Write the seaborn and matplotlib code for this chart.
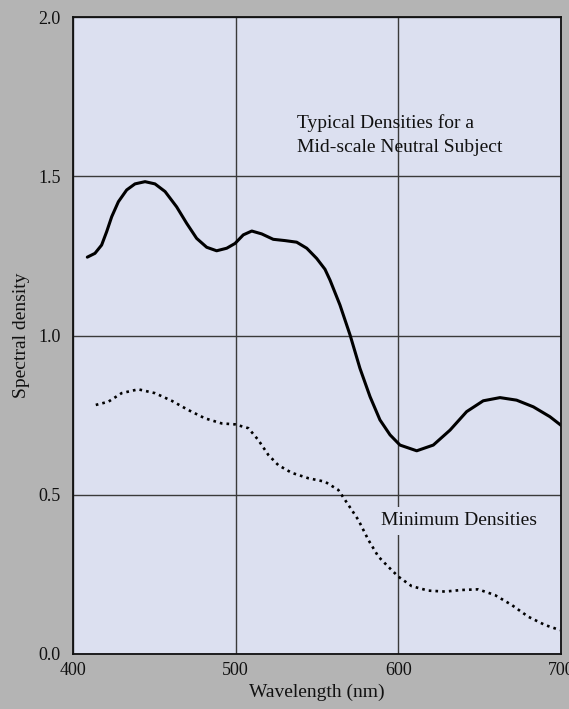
import numpy as np
import pandas as pd
import matplotlib
matplotlib.use("Agg")
import matplotlib.pyplot as plt
import seaborn as sns

# =========================
# DATA
# =========================
typical_nm = [408.8, 413.5, 417.6, 420.7, 423.8, 427.9, 433.0, 438.1, 444.3,
              450.4, 456.6, 463.7, 469.9, 476.0, 482.2, 488.3, 494.5, 499.6,
              504.7, 509.9, 516.0, 523.1, 530.3, 537.5, 543.7, 549.8, 554.9,
              558.0, 564.1, 570.3, 576.4, 582.6, 588.7, 594.9, 601.0, 611.3,
              621.5, 631.8, 642.0, 652.2, 662.5, 672.7, 683.0, 693.2, 700.0]
typical_density = [1.246, 1.258, 1.284, 1.326, 1.373, 1.420, 1.457, 1.476, 1.483,
                   1.476, 1.452, 1.404, 1.352, 1.305, 1.277, 1.266, 1.274, 1.289,
                   1.316, 1.328, 1.319, 1.302, 1.298, 1.293, 1.274, 1.242, 1.208,
                   1.174, 1.096, 1.002, 0.897, 0.808, 0.735, 0.688, 0.656, 0.638,
                   0.656, 0.703, 0.761, 0.795, 0.805, 0.797, 0.776, 0.745, 0.718]

minimum_nm = [414.0, 421.7, 429.9, 440.1, 450.4, 460.7, 470.9, 481.1, 491.4,
              499.6, 507.8, 513.9, 520.1, 526.2, 534.4, 544.6, 554.9, 563.1,
              569.3, 575.4, 581.6, 587.7, 593.8, 600.0, 608.2, 618.4, 628.7,
              638.9, 649.1, 659.4, 669.7, 679.9, 690.2, 699.4]
minimum_density = [0.782, 0.792, 0.819, 0.831, 0.819, 0.795, 0.766, 0.740, 0.724,
                   0.721, 0.709, 0.672, 0.625, 0.593, 0.569, 0.552, 0.541, 0.515,
                   0.468, 0.421, 0.358, 0.306, 0.274, 0.243, 0.213, 0.199, 0.196,
                   0.201, 0.203, 0.185, 0.154, 0.117, 0.091, 0.075]

x_ticks = [400, 500, 600, 700]
y_ticks = [0.0, 0.5, 1.0, 1.5, 2.0]

# =========================
# STYLE
# =========================
bg_fig = "#b4b4b4"
bg_ax = "#dce0f0"
ink = "#111111"

sns.set_theme(style="whitegrid")
plt.rcParams["font.family"] = ["Liberation Serif", "DejaVu Serif"]

df_typ = pd.DataFrame({"nm": typical_nm, "density": typical_density})
df_min = pd.DataFrame({"nm": minimum_nm, "density": minimum_density})

fig = plt.figure(figsize=(5.69, 7.09), dpi=100, facecolor=bg_fig)
ax = fig.add_axes([73 / 569, 1 - 654 / 709, (561 - 73) / 569, (654 - 17) / 709])
ax.set_facecolor(bg_ax)

sns.lineplot(data=df_typ, x="nm", y="density", ax=ax, color="black", lw=2.2)
ax.lines[-1].set_solid_joinstyle("round")
ax.lines[-1].set_solid_capstyle("round")
sns.lineplot(data=df_min, x="nm", y="density", ax=ax, color="black", lw=1.9,
             linestyle=(0, (1, 1.55)))

ax.set_xlim(400, 700)
ax.set_ylim(0, 2.0)
ax.set_xticks(x_ticks)
ax.set_yticks(y_ticks)
ax.set_xticklabels([str(t) for t in x_ticks])
ax.set_yticklabels([f"{t:.1f}" for t in y_ticks])
ax.tick_params(axis="both", length=0, labelsize=13, colors=ink)
ax.tick_params(axis="x", pad=6)
ax.tick_params(axis="y", pad=9)

ax.grid(True, color="#3a3a3a", lw=1.0)
for s in ax.spines.values():
    s.set_visible(True)
    s.set_color(ink)
    s.set_linewidth(1.3)

ax.set_xlabel("Wavelength (nm)", fontsize=14, color=ink, labelpad=3)
ax.set_ylabel("Spectral density", fontsize=14, color=ink, labelpad=6)

# annotations
ax.text(537.5, 1.652, "Typical Densities for a", fontsize=14, ha="left",
        va="baseline", color=ink)
ax.text(537.5, 1.577, "Mid-scale Neutral Subject", fontsize=14, ha="left",
        va="baseline", color=ink)
ax.text(589.5, 0.418, "Minimum Densities", fontsize=14, ha="left", va="center",
        color=ink, bbox=dict(facecolor=bg_ax, edgecolor="none", pad=4))

fig.savefig("out.png", dpi=100, facecolor=bg_fig)
